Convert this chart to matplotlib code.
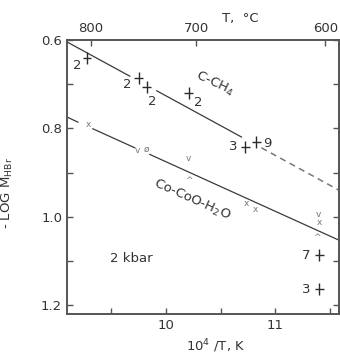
import matplotlib
matplotlib.use("Agg")
import matplotlib.pyplot as plt

plt.rcParams['font.family'] = ['DejaVu Sans']
plt.rcParams['mathtext.fontset'] = 'dejavusans'

# upper (C-CH4) buffer line: solid pieces + dashed extrapolation
upper_solid = [([9.10, 9.673], [0.6045, 0.682]),
               ([9.918, 10.691], [0.715, 0.8196])]
upper_dash = ([10.873, 11.58], [0.844, 0.940])

# lower (Co-CoO-H2O) buffer line
lower_solid = [([9.08, 9.20], [0.772, 0.786]),
               ([9.336, 9.718], [0.801, 0.844]),
               ([9.855, 11.58], [0.859, 1.053])]

# crossed points (C-CH4 runs) with number of runs
cross_x = [9.282, 9.755, 9.827, 10.209, 10.727, 10.827, 11.40, 11.40]
cross_y = [0.641, 0.686, 0.706, 0.720, 0.842, 0.831, 1.087, 1.164]
cross_n = ['2', '2', '2', '2', '3', '9', '7', '3']
# label offsets in pixels
cross_off = [(-10, -7), (-12, -7), (6, -15), (10, -10), (-12, 0), (11, -1), (-13, 0), (-13, 0)]

# small symbols (Co-CoO-H2O runs)
sym_x = [9.291, 9.745, 9.827, 10.209, 10.209, 10.736, 10.818, 11.391, 11.40, 11.382]
sym_y = [0.792, 0.849, 0.847, 0.869, 0.917, 0.969, 0.983, 0.994, 1.012, 1.048]
sym_c = ['x', 'v', 'ø', 'v', '^', 'x', 'x', 'v', 'x', '^']

xt_bottom = [10, 11]
yt = [0.6, 0.8, 1.0, 1.2]
t_ticks = [800, 700, 600]

fs = 9.5
txt_c = '#333333'

fig = plt.figure(figsize=(3.4, 3.55), dpi=100)
ax = fig.add_axes([0.197, 0.1155, 0.800, 0.772])

line_c = '#3a3a3a'
for xs, ys in upper_solid:
    ax.plot(xs, ys, color=line_c, lw=0.9)
ax.plot(upper_dash[0], upper_dash[1], color='#777777', lw=1.1, ls=(0, (4, 3)))
for xs, ys in lower_solid:
    ax.plot(xs, ys, color=line_c, lw=0.9)

ax.errorbar(cross_x, cross_y, xerr=0.04, yerr=0.014, fmt='none',
            ecolor='#2a2a2a', elinewidth=1.0, capsize=0)
for x, y, n, off in zip(cross_x, cross_y, cross_n, cross_off):
    ax.annotate(n, (x, y), xytext=off, textcoords='offset pixels',
                ha='center', va='center', fontsize=fs, color=txt_c)

for x, y, c in zip(sym_x, sym_y, sym_c):
    ax.text(x, y, c, ha='center', va='center', fontsize=6.5, color='#777777')

ax.text(10.45, 0.70, 'C-CH$_4$', rotation=-25, ha='center', va='center',
        fontsize=fs, color=txt_c)
ax.text(10.236, 0.962, 'Co-CoO-H$_2$O', rotation=-24, ha='center', va='center',
        fontsize=fs, color=txt_c)
ax.text(9.691, 1.0935, '2 kbar', ha='center', va='center', fontsize=fs, color=txt_c)

ax.set_xlim(9.10, 11.58)
ax.set_ylim(1.22, 0.60)
ax.set_xticks(xt_bottom)
ax.set_xticks([9.5, 10.5, 11.5], minor=True)
ax.set_yticks(yt)
ax.set_yticklabels(['0.6', '0.8', '1.0', '1.2'])
ax.set_yticks([0.7, 0.9, 1.1], minor=True)
ax.tick_params(which='both', direction='in', right=True, colors='#555555',
               labelcolor=txt_c, labelsize=fs)
ax.tick_params(which='major', length=4, width=1)
ax.tick_params(which='minor', length=4, width=1)
for s in ax.spines.values():
    s.set_color('#555555')
    s.set_linewidth(1.4)

sec = ax.secondary_xaxis('top', functions=(lambda x: 1e4 / x - 273,
                                           lambda t: 1e4 / (t + 273)))
sec.set_xticks(t_ticks)
sec.tick_params(direction='in', length=4, width=1, colors='#555555',
                labelcolor=txt_c, labelsize=fs)
sec.spines['top'].set_visible(False)

ax.set_xlabel('10$^4$ /T, K', fontsize=fs, color=txt_c)
ax.xaxis.set_label_coords(0.548, -0.085)
ax.set_ylabel('- LOG M$_{\\mathrm{HBr}}$', fontsize=fs, color=txt_c)
ax.yaxis.set_label_coords(-0.19, 0.44)
fig.text(0.706, 0.949, 'T,  °C', ha='center', va='center', fontsize=fs, color=txt_c)

fig.savefig('out.png', dpi=100, facecolor='white')
